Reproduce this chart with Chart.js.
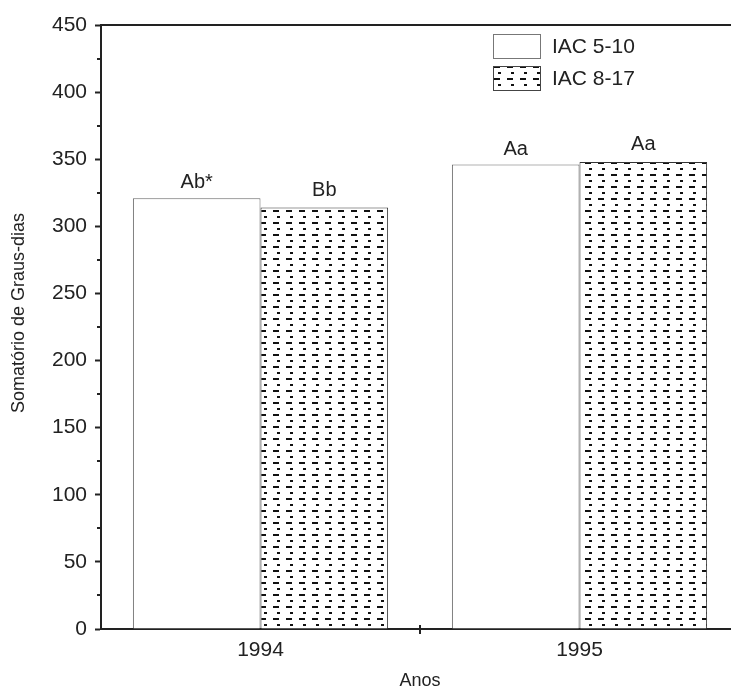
<!DOCTYPE html>
<html lang="pt">
<head>
    <meta charset="UTF-8">
    <title>Somatório de Graus-dias</title>
    <script src="https://cdn.jsdelivr.net/npm/chart.js"></script>
    <style>
        html, body {
            margin: 0;
            padding: 0;
            background: #ffffff;
            overflow: hidden;
        }
        .chart-box {
            width: 745px;
            height: 692px;
        }
    </style>
</head>
<body>
    <div class="chart-box">
        <canvas id="chart"></canvas>
    </div>

    <script>
        // values
        const anos = ['1994', '1995'];
        const iac510 = [321, 346];
        const iac817 = [314, 348];
        const letras510 = ['Ab*', 'Aa'];
        const letras817 = ['Bb', 'Aa'];

        const FONT = "'Liberation Sans', Arial, Helvetica, sans-serif";
        const INK = '#222222';

        // dotted/dashed fill used for IAC 8-17
        function makePattern() {
            const tile = document.createElement('canvas');
            tile.width = 13;
            tile.height = 12;
            const t = tile.getContext('2d');
            t.fillStyle = '#ffffff';
            t.fillRect(0, 0, 13, 12);
            t.fillStyle = '#111111';
            t.fillRect(4, 0, 3, 2);   // small square
            t.fillRect(0, 6, 6, 2);   // long dash
            return t.createPattern(tile, 'repeat');
        }
        const pattern = makePattern();

        const extras = {
            id: 'extras',
            afterDraw(chart) {
                const ctx = chart.ctx;
                const area = chart.chartArea;
                const y = chart.scales.y;
                const x = chart.scales.x;
                ctx.save();

                // top frame line
                ctx.strokeStyle = INK;
                ctx.lineWidth = 2;
                ctx.beginPath();
                ctx.moveTo(area.left - 1, area.top);
                ctx.lineTo(area.right + 10, area.top);
                ctx.stroke();

                // minor y ticks
                for (let v = 25; v < 450; v += 50) {
                    const py = Math.round(y.getPixelForValue(v));
                    ctx.beginPath();
                    ctx.moveTo(area.left - 4, py);
                    ctx.lineTo(area.left, py);
                    ctx.stroke();
                }

                // x tick between the years
                for (let i = 0; i < anos.length - 1; i++) {
                    const px = (x.getPixelForValue(i) + x.getPixelForValue(i + 1)) / 2;
                    ctx.beginPath();
                    ctx.moveTo(px, area.bottom - 4);
                    ctx.lineTo(px, area.bottom + 5);
                    ctx.stroke();
                }

                // y axis title, sits a bit below the middle in the original
                ctx.fillStyle = INK;
                ctx.font = '18px ' + FONT;
                ctx.textAlign = 'center';
                ctx.textBaseline = 'middle';
                ctx.save();
                ctx.translate(19, 313);
                ctx.rotate(-Math.PI / 2);
                ctx.fillText('Somatório de Graus-dias', 0, 0);
                ctx.restore();

                // letters above bars
                ctx.font = '20px ' + FONT;
                ctx.textBaseline = 'alphabetic';
                const letras = [letras510, letras817];
                const gap = [10, 12];
                chart.data.datasets.forEach((ds, di) => {
                    chart.getDatasetMeta(di).data.forEach((bar, i) => {
                        ctx.fillText(letras[di][i], bar.x, bar.y - gap[di]);
                    });
                });

                // legend inside the plot
                const lx = area.left + 392;
                const ly = area.top + 9;
                ctx.font = '21px ' + FONT;
                ctx.textAlign = 'left';
                ctx.textBaseline = 'middle';
                chart.data.datasets.forEach((ds, di) => {
                    const by = ly + di * 32;
                    ctx.fillStyle = ds.backgroundColor;
                    ctx.fillRect(lx, by, 47, 24);
                    ctx.strokeStyle = di === 0 ? '#777777' : '#444444';
                    ctx.lineWidth = 1;
                    ctx.strokeRect(lx + 0.5, by + 0.5, 47, 24);
                    ctx.fillStyle = INK;
                    ctx.fillText(ds.label, lx + 59, by + 13);
                });

                ctx.restore();
            }
        };

        new Chart(document.getElementById('chart'), {
            type: 'bar',
            data: {
                labels: anos,
                datasets: [{
                    label: 'IAC 5-10',
                    data: iac510,
                    backgroundColor: '#ffffff',
                    borderColor: '#666666',
                    borderWidth: 1
                }, {
                    label: 'IAC 8-17',
                    data: iac817,
                    backgroundColor: pattern,
                    borderColor: '#333333',
                    borderWidth: 1
                }]
            },
            options: {
                responsive: true,
                maintainAspectRatio: false,
                animation: false,
                categoryPercentage: 0.8,
                barPercentage: 1,
                layout: { padding: { top: 25, right: 6, left: 0, bottom: 0 } },
                plugins: {
                    legend: { display: false },
                    tooltip: { enabled: false }
                },
                scales: {
                    x: {
                        offset: true,
                        grid: { display: false, drawTicks: false },
                        border: { display: true, color: INK, width: 2 },
                        ticks: {
                            color: INK,
                            padding: 9,
                            font: { family: FONT, size: 21 }
                        },
                        title: {
                            display: true,
                            text: 'Anos',
                            color: INK,
                            padding: { top: 0, bottom: 0 },
                            font: { family: FONT, size: 18 }
                        },
                        afterFit(scale) { scale.height = 63; }
                    },
                    y: {
                        min: 0,
                        max: 450,
                        ticks: {
                            stepSize: 50,
                            color: INK,
                            padding: 8,
                            font: { family: FONT, size: 21 }
                        },
                        grid: {
                            drawOnChartArea: false,
                            tickLength: 6,
                            tickColor: INK,
                            tickWidth: 2
                        },
                        border: { display: true, color: INK, width: 2 },
                        afterFit(scale) { scale.width = 101; }
                    }
                }
            },
            plugins: [extras]
        });
    </script>
</body>
</html>
